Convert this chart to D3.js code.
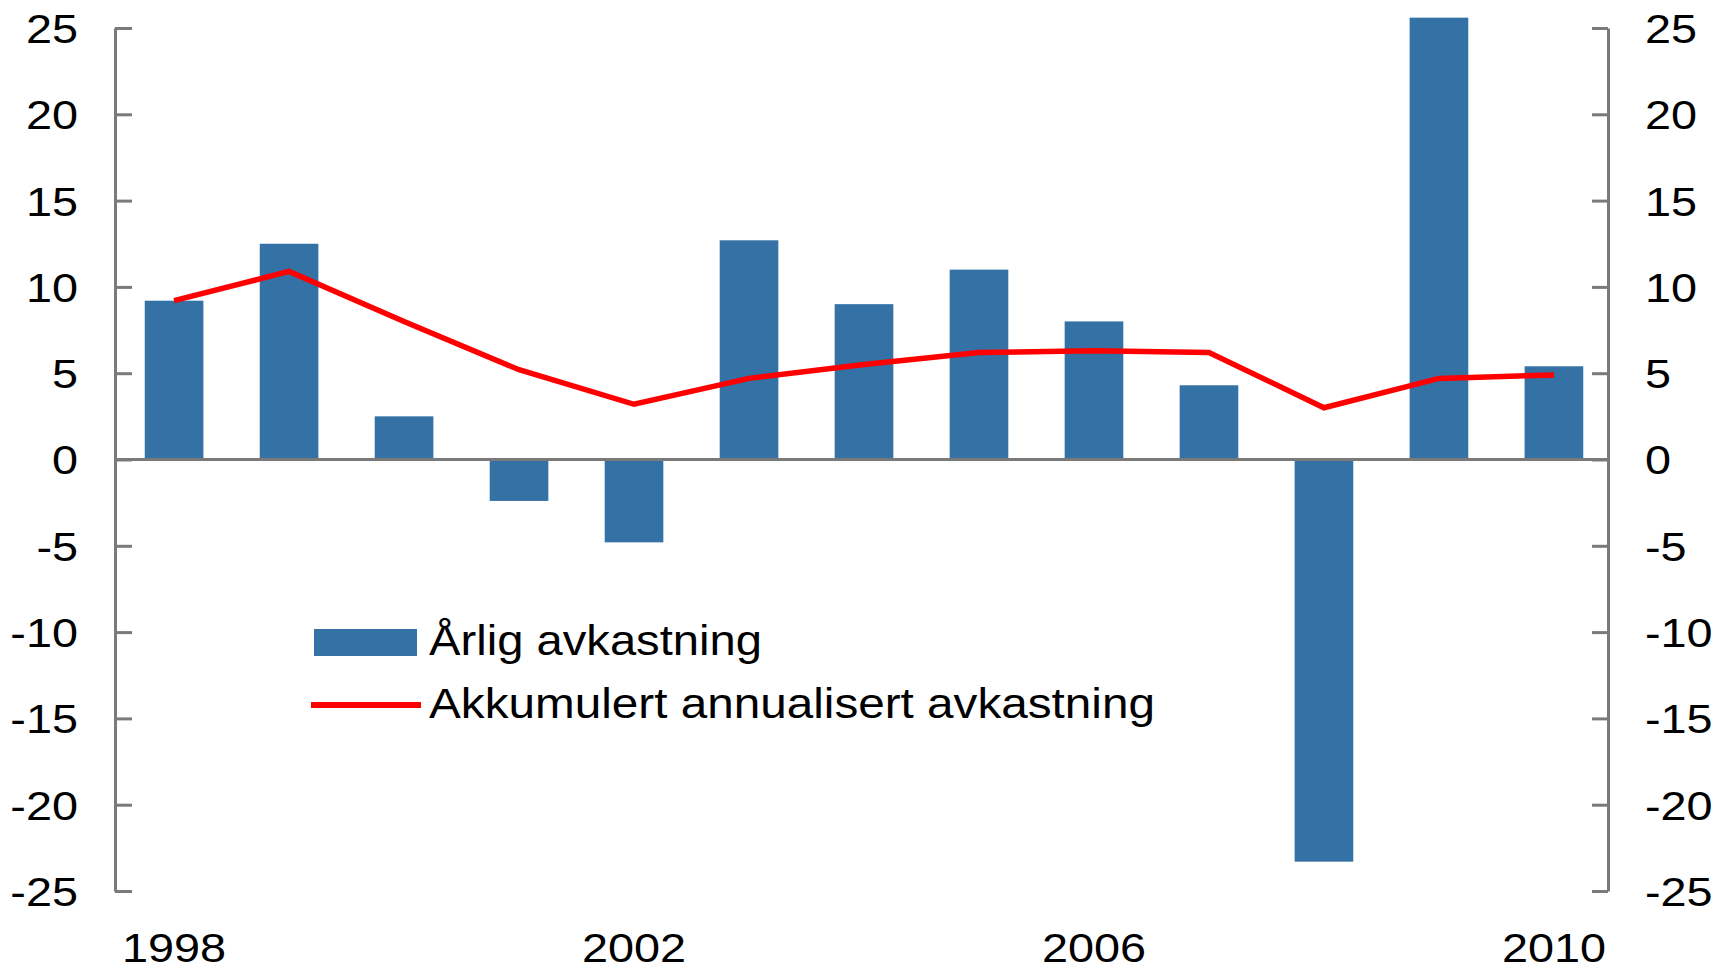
<!DOCTYPE html>
<html>
<head>
<meta charset="utf-8">
<script src="https://cdn.jsdelivr.net/npm/d3@7"></script>
<style>
  body { margin: 0; background: #fff; }
  text { font-family: "Liberation Sans", Arial, sans-serif; fill: #000; }
</style>
</head>
<body>
<svg id="chart" width="1715" height="970"></svg>
<script>
// data
var years = ["1998","1999","2000","2001","2002","2003","2004","2005","2006","2007","2008","2009","2010"];
var annual = [9.2, 12.5, 2.5, -2.4, -4.8, 12.7, 9.0, 11.0, 8.0, 4.3, -23.3, 25.6, 5.4];
var accumulated = [9.2, 10.9, 8.0, 5.2, 3.2, 4.7, 5.5, 6.2, 6.3, 6.2, 3.0, 4.7, 4.9];
var yTicks = [-25, -20, -15, -10, -5, 0, 5, 10, 15, 20, 25];
var yearLabels = ["1998", "2002", "2006", "2010"];
var legendNames = ["Årlig avkastning", "Akkumulert annualisert avkastning"];

var svg = d3.select('#chart');
var margin = {left: 115, right: 1608, top: 28, bottom: 891};
var axisColor = '#7a7a7a', barColor = '#3471a5';

// bars sit a touch right of centre in the original
var x = d3.scaleBand()
    .domain(years)
    .range([margin.left + 1, margin.right + 4])
    .paddingInner(0.49)
    .paddingOuter(0.25);

var y = d3.scaleLinear()
    .domain([-25, 25])
    .range([margin.bottom, margin.top]);

// stretch text horizontally, the original font is a bit wide
function stretch(sel, k) {
  sel.each(function() {
    var w = this.getComputedTextLength();
    d3.select(this).attr('textLength', w * k).attr('lengthAdjust', 'spacingAndGlyphs');
  });
}

// bars
svg.append('g').selectAll('rect')
    .data(years)
    .enter()
    .append('rect')
      .attr('x', function(d) { return x(d); })
      .attr('width', x.bandwidth())
      .attr('y', function(d, i) { return y(Math.max(0, annual[i])); })
      .attr('height', function(d, i) { return Math.abs(y(annual[i]) - y(0)); })
      .style('fill', barColor);

// left axis
var yLeft = d3.axisRight(y).tickValues(yTicks).tickSize(17).tickSizeOuter(0);
var gL = svg.append('g').attr('transform', 'translate(' + margin.left + ',0)').call(yLeft);
// right axis
var yRight = d3.axisLeft(y).tickValues(yTicks).tickSize(16).tickSizeOuter(0);
var gR = svg.append('g').attr('transform', 'translate(' + margin.right + ',0)').call(yRight);

[gL, gR].forEach(function(g) {
  g.attr('font-family', null).attr('font-size', null);
  g.select('.domain').attr('stroke', axisColor).attr('stroke-width', 3);
  g.selectAll('.tick line').attr('stroke', axisColor).attr('stroke-width', 3);
  g.selectAll('.tick text').attr('font-size', 40).attr('fill', '#000').attr('dy', '0.36em')
      .text(function(d) { return String(d); });
});
gL.selectAll('.tick text').attr('x', -37).attr('text-anchor', 'end');
gR.selectAll('.tick text').attr('x', 37).attr('text-anchor', 'start');
stretch(gL.selectAll('.tick text'), 1.17);
stretch(gR.selectAll('.tick text'), 1.17);

// zero line
svg.append('line')
    .attr('x1', margin.left).attr('x2', margin.right)
    .attr('y1', y(0)).attr('y2', y(0))
    .attr('stroke', axisColor)
    .attr('stroke-width', 3);

// accumulated line
var line = d3.line()
    .x(function(d, i) { return x(years[i]) + x.bandwidth() / 2; })
    .y(function(d) { return y(d); });

svg.append('path')
    .datum(accumulated)
    .attr('d', line)
    .attr('fill', 'none')
    .attr('stroke', '#ff0000')
    .attr('stroke-width', 5.5);

// year labels
var yl = svg.append('g').selectAll('text')
    .data(yearLabels)
    .enter()
    .append('text')
      .attr('x', function(d) { return x(d) + x.bandwidth() / 2; })
      .attr('y', 962)
      .attr('font-size', 40)
      .attr('text-anchor', 'middle')
      .text(function(d) { return d; });
stretch(yl, 1.17);

// legend
var legend = svg.append('g');
legend.append('rect')
    .attr('x', 314).attr('y', 629)
    .attr('width', 103).attr('height', 27)
    .style('fill', barColor);
legend.append('line')
    .attr('x1', 311).attr('x2', 421)
    .attr('y1', 705).attr('y2', 705)
    .attr('stroke', '#ff0000')
    .attr('stroke-width', 6);
legend.append('text')
    .attr('x', 429).attr('y', 655)
    .attr('font-size', 42)
    .attr('textLength', 333).attr('lengthAdjust', 'spacingAndGlyphs')
    .text(legendNames[0]);
legend.append('text')
    .attr('x', 429).attr('y', 718)
    .attr('font-size', 42)
    .attr('textLength', 726).attr('lengthAdjust', 'spacingAndGlyphs')
    .text(legendNames[1]);
</script>
</body>
</html>
